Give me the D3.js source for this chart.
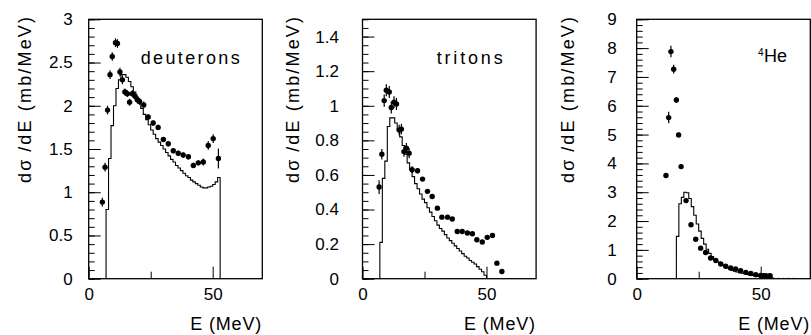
<!DOCTYPE html>
<html><head><meta charset="utf-8">
<script src="https://cdn.jsdelivr.net/npm/d3@7"></script>
<style>html,body{margin:0;padding:0;background:#fff;} svg{display:block;}</style>
</head><body><svg id="c" width="811" height="335"></svg>
<script>
// ---------- data ----------
const xMajorTicks = [0, 50];
const xMinorTicks = [25];

// deuterons
const deutE   = [5.5, 6.6, 7.6, 8.6, 9.5, 10.8, 11.6, 12.6, 13.6, 14.6, 15.6, 16.5, 17.6, 18.7, 19.6, 20.5, 22.2, 24, 26, 28, 30.1, 32.1, 34.1, 36.1, 38.1, 40.2, 42.2, 44.2, 46.2, 48.2, 50.2, 52.3];
const deutV   = [0.886, 1.29, 1.95, 2.36, 2.57, 2.73, 2.72, 2.39, 2.30, 2.16, 2.14, 2.04, 2.14, 2.11, 2.07, 2.05, 2.01, 1.87, 1.80, 1.75, 1.61, 1.56, 1.48, 1.45, 1.43, 1.41, 1.31, 1.34, 1.35, 1.54, 1.62, 1.39];
const deutErr = [0.05, 0.05, 0.05, 0.05, 0.05, 0.05, 0.05, 0.05, 0.05, 0.04, 0.04, 0.04, 0.04, 0.04, 0.04, 0.04, 0.04, 0.03, 0.03, 0.03, 0.03, 0.03, 0.03, 0.03, 0.03, 0.03, 0.03, 0.03, 0.04, 0.05, 0.05, 0.115];
const deutHistStart = 7;
const deutHist = [0.80, 1.39, 1.77, 2.00, 2.20, 2.30, 2.36, 2.36, 2.33, 2.28, 2.22, 2.16, 2.10, 2.03, 1.97, 1.90, 1.84, 1.78, 1.72, 1.67, 1.62, 1.58, 1.54, 1.50, 1.46, 1.42, 1.38, 1.35, 1.31, 1.28, 1.25, 1.22, 1.19, 1.17, 1.14, 1.12, 1.10, 1.08, 1.06, 1.05, 1.05, 1.06, 1.07, 1.09, 1.12, 1.17];

// tritons
const tritE   = [6.7, 7.8, 8.75, 9.6, 10.8, 11.6, 12.7, 13.7, 14.8, 15.7, 16.7, 17.7, 18.8, 20, 22.2, 24.2, 26.2, 28.1, 30.2, 32, 34.3, 36.2, 38.2, 40.2, 42.3, 44.3, 46.1, 48.3, 50.3, 52.4, 54.2, 56.2];
const tritV   = [0.53, 0.72, 1.03, 1.09, 1.08, 0.99, 1.02, 1.01, 0.86, 0.865, 0.735, 0.755, 0.726, 0.63, 0.624, 0.576, 0.505, 0.475, 0.408, 0.356, 0.356, 0.345, 0.273, 0.273, 0.264, 0.26, 0.225, 0.212, 0.239, 0.25, 0.09, 0.042];
const tritErr = [0.04, 0.03, 0.035, 0.035, 0.035, 0.035, 0.035, 0.035, 0.03, 0.03, 0.03, 0.03, 0.03, 0.02, 0.015, 0.01, 0.01, 0.01, 0.01, 0.01, 0.01, 0.01, 0.01, 0.01, 0.01, 0.01, 0.01, 0.01, 0.01, 0.01, 0.01, 0.01];
const tritHistStart = 7;
const tritHist = [0.21, 0.58, 0.68, 0.88, 0.93, 0.93, 0.90, 0.86, 0.82, 0.77, 0.72, 0.67, 0.63, 0.59, 0.55, 0.52, 0.49, 0.46, 0.44, 0.41, 0.385, 0.36, 0.335, 0.31, 0.29, 0.275, 0.255, 0.235, 0.22, 0.205, 0.19, 0.175, 0.16, 0.145, 0.13, 0.12, 0.105, 0.095, 0.085, 0.07, 0.055, 0.04, 0.02];

// 4He
const heE   = [11.8, 12.9, 13.8, 14.9, 16, 16.9, 17.9, 19.9, 21.9, 23.8, 25.8, 27.8, 29.8, 31.9, 33.9, 35.9, 37.9, 39.9, 41.9, 44, 46, 48, 50, 51, 52, 53, 53.8];
const heV   = [3.58, 5.59, 7.88, 7.27, 6.20, 4.99, 3.89, 2.71, 1.87, 1.37, 1.06, 0.91, 0.72, 0.63, 0.51, 0.43, 0.37, 0.34, 0.28, 0.22, 0.18, 0.14, 0.11, 0.10, 0.10, 0.09, 0.10];
const heErr = [0.08, 0.2, 0.2, 0.15, 0.1, 0.08, 0.08, 0.06, 0.05, 0.04, 0.03, 0.03, 0.03, 0.02, 0.02, 0.02, 0.02, 0.02, 0.02, 0.02, 0.02, 0.02, 0.02, 0.02, 0.02, 0.02, 0.02];
const heHistStart = 16;
const heHist = [1.47, 2.6, 2.82, 3.0, 2.98, 2.78, 2.5, 2.2, 1.9, 1.65, 1.4, 1.2, 1.02, 0.88, 0.77, 0.67, 0.59, 0.52, 0.47, 0.42, 0.37, 0.33, 0.29, 0.26, 0.23, 0.21, 0.19, 0.17, 0.15, 0.13, 0.115, 0.10, 0.09, 0.08, 0.07, 0.06, 0.05, 0.04, 0.03];
const heTailE = [55, 65];
const heTailV = [0.02, 0.02];

// ---------- layout ----------
const svg = d3.select("#c");
const frameTop = 19.3, frameBottom = 278.7, plotW = 173.6;
const font = "'Liberation Sans', Arial, Helvetica, sans-serif";

const panels = [
  {left: 88.7, yMax: 3, major: d3.range(0, 3.01, 0.5), minor: d3.range(0, 3.001, 0.1), fmt: d3.format("~g"), pad: 16,
   E: deutE, V: deutV, Err: deutErr, hs: deutHistStart, h: deutHist, ylabX: 31,
   label: {x: 140.7, y: 64, text: "deuterons", len: 99}},
  {left: 362.5, yMax: 1.5, major: d3.range(0, 1.41, 0.2), minor: d3.range(0, 1.5001, 0.05), fmt: d3.format("~g"), pad: 23.5,
   E: tritE, V: tritV, Err: tritErr, hs: tritHistStart, h: tritHist, ylabX: 299,
   label: {x: 436.7, y: 63.5, text: "tritons", len: 66}},
  {left: 636.7, yMax: 9, major: d3.range(0, 9.01, 1), minor: d3.range(0, 9.001, 0.2), fmt: d3.format("d"), pad: 20,
   E: heE, V: heV, Err: heErr, hs: heHistStart, h: heHist, ylabX: 574, tail: true,
   label: null}
];

panels.forEach((p) => {
  const x = d3.scaleLinear().domain([0, 70]).range([p.left, p.left + plotW]);
  const y = d3.scaleLinear().domain([0, p.yMax]).range([frameBottom, frameTop]);
  const g = svg.append("g");

  const yMinor = g.append("g").attr("transform", `translate(${p.left},0)`)
    .call(d3.axisLeft(y).tickValues(p.minor).tickSize(-6).tickFormat(""));
  const yMajor = g.append("g").attr("transform", `translate(${p.left},0)`)
    .call(d3.axisLeft(y).tickValues(p.major).tickSize(-12).tickPadding(p.pad).tickFormat(p.fmt));
  const xMinor = g.append("g").attr("transform", `translate(0,${frameBottom})`)
    .call(d3.axisBottom(x).tickValues(xMinorTicks).tickSize(-7).tickFormat(""));
  const xMajor = g.append("g").attr("transform", `translate(0,${frameBottom})`)
    .call(d3.axisBottom(x).tickValues(xMajorTicks).tickSize(-12).tickPadding(9.5).tickFormat(d3.format("d")));
  [yMinor, yMajor, xMinor, xMajor].forEach(a => {
    a.select(".domain").remove();
    a.selectAll("line").attr("stroke", "#000").attr("stroke-width", 1);
    a.selectAll("text").attr("font-family", font).attr("font-size", 17).attr("fill", "#000");
  });

  // histogram (model)
  const hp = [[p.hs, 0]];
  p.h.forEach((v, i) => hp.push([p.hs + i, v]));
  const hEnd = p.hs + p.h.length;
  hp.push([hEnd, p.h[p.h.length - 1]]);
  hp.push([hEnd, 0]);
  g.append("path")
    .attr("d", d3.line().x(d => x(d[0])).y(d => y(d[1])).curve(d3.curveStepAfter)(hp))
    .attr("fill", "none").attr("stroke", "#000").attr("stroke-width", 1.1);

  if (p.tail) {
    g.append("path")
      .attr("d", d3.line().x(d => x(d[0])).y(d => y(d[1]))(heTailE.map((e, i) => [e, heTailV[i]])))
      .attr("fill", "none").attr("stroke", "#777").attr("stroke-width", 1).attr("stroke-dasharray", "1,4");
  }

  const pts = p.E.map((e, i) => ({e, v: p.V[i], err: p.Err[i]}));
  g.selectAll(".eb").data(pts).enter().append("line")
    .attr("x1", d => x(d.e)).attr("x2", d => x(d.e))
    .attr("y1", d => y(d.v - d.err)).attr("y2", d => y(d.v + d.err))
    .attr("stroke", "#000").attr("stroke-width", 1.2);
  g.selectAll(".pt").data(pts).enter().append("circle")
    .attr("cx", d => x(d.e)).attr("cy", d => y(d.v)).attr("r", 2.7).attr("fill", "#000");

  g.append("rect").attr("x", p.left).attr("y", frameTop).attr("width", plotW).attr("height", frameBottom - frameTop)
    .attr("fill", "none").attr("stroke", "#000").attr("stroke-width", 1.3);

  g.append("text").attr("transform", `translate(${p.ylabX},183) rotate(-90)`)
    .attr("font-family", font).attr("font-size", 18).attr("fill", "#000")
    .attr("textLength", 166).attr("lengthAdjust", "spacing")
    .text("dσ\u2009/dE (mb/MeV)");

  g.append("text").attr("x", p.left + plotW - 72).attr("y", 330)
    .attr("font-family", font).attr("font-size", 18).attr("fill", "#000")
    .attr("textLength", 71).attr("lengthAdjust", "spacing")
    .text("E (MeV)");

  if (p.label) {
    g.append("text").attr("x", p.label.x).attr("y", p.label.y)
      .attr("font-family", font).attr("font-size", 18).attr("fill", "#000")
      .attr("textLength", p.label.len).attr("lengthAdjust", "spacing")
      .text(p.label.text);
  } else {
    const t = g.append("text").attr("x", 758).attr("y", 62)
      .attr("font-family", font).attr("fill", "#000");
    t.append("tspan").attr("font-size", 10).attr("dy", -6).text("4");
    t.append("tspan").attr("font-size", 18).attr("dy", 6).attr("dx", 0.5).text("He");
  }
});
</script></body></html>
